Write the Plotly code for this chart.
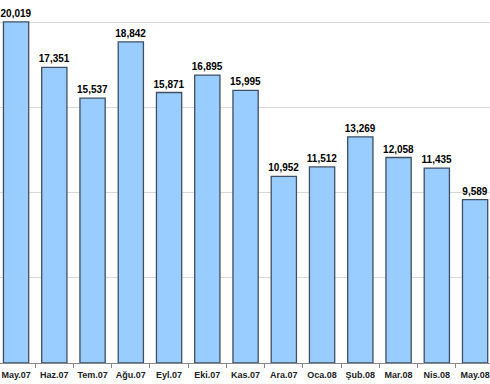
import plotly.graph_objects as go

months = ["May.07", "Haz.07", "Tem.07", "Ağu.07", "Eyl.07", "Eki.07", "Kas.07",
          "Ara.07", "Oca.08", "Şub.08", "Mar.08", "Nis.08", "May.08"]
values = [20019, 17351, 15537, 18842, 15871, 16895, 15995,
          10952, 11512, 13269, 12058, 11435, 9589]

fig = go.Figure(go.Bar(
    x=months, y=values,
    marker=dict(color="#99CCFF", line=dict(color="#3f4f63", width=1.3)),
    text=[f"{v:,}" for v in values],
    texttemplate="<b>%{text}</b>",
    textposition="outside",
    constraintext="none",
    textfont=dict(family="Liberation Sans, Arial, sans-serif", size=10, color="#000000"),
    cliponaxis=False,
))

fig.update_layout(
    width=490, height=384,
    margin=dict(l=0, r=0, t=0, b=21, autoexpand=False),
    paper_bgcolor="white", plot_bgcolor="white",
    bargap=0.34,
    showlegend=False,
    font=dict(family="Liberation Sans, Arial, sans-serif", color="#000000"),
    xaxis=dict(
        range=[-0.42, 12.39],
        automargin=False,
        showline=True, linecolor="#888888", linewidth=1,
        ticks="outside", tickson="boundaries", ticklen=4, tickcolor="#888888",
        tickangle=0,
        ticklabeloverflow="allow",
        ticklabelstandoff=3,
        tickprefix="<b>", ticksuffix="</b>",
        tickfont=dict(size=9, family="Liberation Sans, Arial, sans-serif", color="#222222"),
        showgrid=False,
    ),
    yaxis=dict(
        range=[0, 21300],
        automargin=False,
        tickvals=[5000, 10000, 15000, 20000],
        showticklabels=False,
        showgrid=True, gridcolor="#d8d8d8", gridwidth=1,
        zeroline=False, showline=False,
    ),
)

fig.write_html("out.html",
               config={"displayModeBar": False},
               post_script="document.body.style.margin='0';document.body.style.overflow='hidden';")
